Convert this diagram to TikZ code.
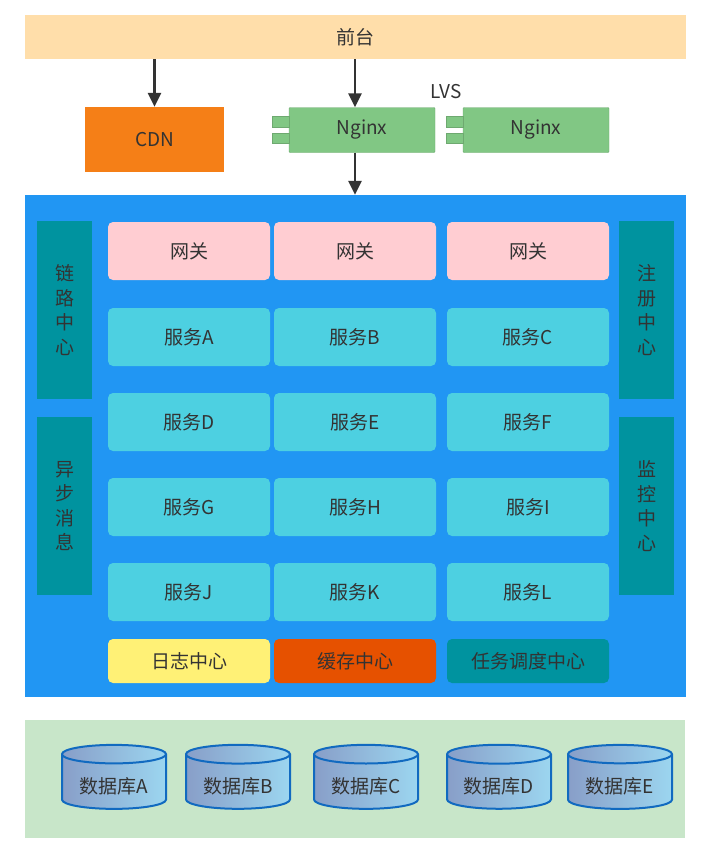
\documentclass[tikz,border=0pt]{standalone}
\usepackage{fontspec}
\setmainfont{Noto Sans CJK SC}
\usetikzlibrary{shapes.geometric,arrows.meta}
\definecolor{frontc}{HTML}{FFDEAA}
\definecolor{cdnc}{HTML}{F57F17}
\definecolor{ngc}{HTML}{81C784}
\definecolor{bluec}{HTML}{2196F3}
\definecolor{tealc}{HTML}{00939F}
\definecolor{pinkc}{HTML}{FFCDD2}
\definecolor{svcc}{HTML}{4DD0E1}
\definecolor{logc}{HTML}{FFF176}
\definecolor{cachec}{HTML}{E65100}
\definecolor{dbc}{HTML}{C8E6C9}
\definecolor{txtc}{HTML}{333333}
\begin{document}
\begin{tikzpicture}
        [x=1pt, y=-1pt, font=\fontsize{19}{23}\selectfont, text=txtc,
        every node/.style={inner sep=0pt},
        area/.style={fill=#1},
        cell/.style={fill=#1, rounded corners=5pt, minimum width=162pt, minimum height=58pt},
        side/.style={fill=tealc, minimum width=55pt, minimum height=178pt, align=center,
                font=\fontsize{19}{24.5}\selectfont},
        ngbox/.style={fill=ngc, draw=ngc!85!black, line width=0.4pt, rounded corners=1pt,
                minimum width=146pt, minimum height=45pt},
        tab/.style={fill=ngc, draw=ngc!85!black, line width=0.4pt},
        db/.style={cylinder, shape border rotate=90, aspect=0.27, draw={rgb,255:red,17;green,106;blue,192},
                line width=2pt, left color={rgb,255:red,136;green,158;blue,200},
                right color={rgb,255:red,156;green,214;blue,240},
                minimum width=104pt, minimum height=64pt},
        arr/.style={draw=txtc, line width=2.8pt, -{Triangle[length=14pt,width=13pt]}}]
        \useasboundingbox (0,0) rectangle (712,852);
        % top layer
        \node[area=frontc, minimum width=661pt, minimum height=44pt] (front) at (355.5,37) {前台};
        \node[area=cdnc, minimum width=139pt, minimum height=65pt] (cdn) at (154.5,139.5) {CDN};
        \node[ngbox] (ng1) at (362,130) {Nginx};
        \node[ngbox] (ng2) at (536,130) {Nginx};
        \foreach \n in {ng1,ng2} {
                \draw[tab] ([xshift=-17pt,yshift=-9pt]\n.north west) rectangle ([yshift=-20pt]\n.north west);
                \draw[tab] ([xshift=-17pt,yshift=-26pt]\n.north west) rectangle ([yshift=-36pt]\n.north west);
        }
        \node (lvs) at (446,92) {LVS};
        % platform
        \node[area=bluec, minimum width=661pt, minimum height=502pt] (plat) at (355.5,446) {};
        \node[side] (trace) at (64.5,310) {链\\路\\中\\心};
        \node[side] (mq) at (64.5,506) {异\\步\\消\\息};
        \node[side] (reg) at (646.5,310) {注\\册\\中\\心};
        \node[side] (mon) at (646.5,506) {监\\控\\中\\心};
        \foreach \c/\x in {1/189,2/355,3/528}
                \node[cell=pinkc] (gw\c) at (\x,251) {网关};
        \foreach \s/\x/\y in {A/189/337,B/355/337,C/528/337,D/189/422,E/355/422,F/528/422,
                G/189/507,H/355/507,I/528/507,J/189/592,K/355/592,L/528/592}
                \node[cell=svcc] (svc\s) at (\x,\y) {服务\s};
        \node[cell=logc, minimum height=44pt] (log) at (189,661) {日志中心};
        \node[cell=cachec, minimum height=44pt] (cache) at (355,661) {缓存中心};
        \node[cell=tealc, minimum height=44pt] (job) at (528,661) {任务调度中心};
        % storage
        \node[area=dbc, minimum width=660pt, minimum height=118pt] (store) at (355,779) {};
        \foreach \d/\x in {A/114,B/238,C/366,D/499,E/620}
                \node[db, label={[yshift=-4pt]center:数据库\d}] (db\d) at (\x,782) {\phantom{数据库\d}};
        % arrows
        \draw[arr] (front.south -| cdn.north) -- (cdn.north);
        \draw[arr] ([xshift=-7pt]front.south -| ng1.north) -- ([xshift=-7pt]ng1.north);
        \draw[arr] ([xshift=-7pt]ng1.south) -- ([xshift=-7pt]ng1.south |- plat.north);
\end{tikzpicture}
\end{document}
